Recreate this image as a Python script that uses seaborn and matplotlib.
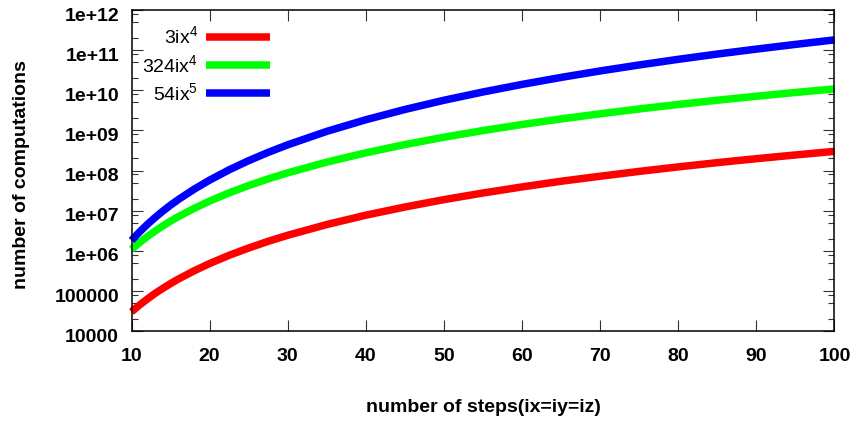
import numpy as np
import pandas as pd
import matplotlib
matplotlib.use("Agg")
import matplotlib.pyplot as plt
from matplotlib.ticker import FixedLocator, FixedFormatter, LogLocator, NullFormatter
from matplotlib.transforms import ScaledTranslation
import seaborn as sns

# grid sizes (steps per dimension)
steps = [10, 11, 12, 13, 14, 15, 16, 18, 20, 22.5, 25, 27.5, 30, 35, 40, 45,
         50, 55, 60, 65, 70, 75, 80, 85, 90, 95, 100]

# number of computations for each scheme
comp_3ix4 = [3.0e4, 4.4e4, 6.2e4, 8.6e4, 1.15e5, 1.52e5, 1.97e5, 3.15e5, 4.8e5,
             7.7e5, 1.17e6, 1.72e6, 2.43e6, 4.5e6, 7.7e6, 1.23e7, 1.88e7,
             2.75e7, 3.9e7, 5.4e7, 7.2e7, 9.5e7, 1.23e8, 1.57e8, 1.97e8,
             2.44e8, 3.0e8]
comp_324ix4 = [1.08e6, 1.58e6, 2.24e6, 3.08e6, 4.15e6, 5.47e6, 7.08e6, 1.13e7,
               1.73e7, 2.77e7, 4.22e7, 6.18e7, 8.75e7, 1.62e8, 2.76e8, 4.43e8,
               6.75e8, 9.9e8, 1.40e9, 1.93e9, 2.59e9, 3.42e9, 4.42e9, 5.64e9,
               7.09e9, 8.8e9, 1.08e10]
comp_54ix5 = [1.8e6, 2.9e6, 4.48e6, 6.68e6, 9.68e6, 1.37e7, 1.89e7, 3.4e7,
              5.76e7, 1.04e8, 1.76e8, 2.83e8, 4.37e8, 9.45e8, 1.84e9, 3.32e9,
              5.63e9, 9.06e9, 1.40e10, 2.09e10, 3.03e10, 4.27e10, 5.9e10,
              7.99e10, 1.06e11, 1.39e11, 1.8e11]

series_labels = ["3ix$^{4}$", "324ix$^{4}$", "54ix$^{5}$"]
series_colors = ["#ff0000", "#00ff00", "#0000ff"]

x_ticks = [10, 20, 30, 40, 50, 60, 70, 80, 90, 100]
y_ticks = [1e4, 1e5, 1e6, 1e7, 1e8, 1e9, 1e10, 1e11, 1e12]
y_tick_labels = ["10000", "100000", "1e+06", "1e+07", "1e+08", "1e+09",
                 "1e+10", "1e+11", "1e+12"]

df = pd.concat([
    pd.DataFrame({"steps": steps, "computations": vals, "scheme": lab})
    for vals, lab in zip([comp_3ix4, comp_324ix4, comp_54ix5], series_labels)
], ignore_index=True)

sns.set_theme(style="ticks")
plt.rcParams["font.family"] = ["Liberation Sans", "DejaVu Sans"]
plt.rcParams["mathtext.default"] = "regular"
plt.rcParams["text.color"] = "black"
plt.rcParams["axes.labelcolor"] = "black"
plt.rcParams["xtick.labelcolor"] = "black"
plt.rcParams["ytick.labelcolor"] = "black"

fig = plt.figure(figsize=(8.54, 4.21), dpi=100)
ax = fig.add_axes([131.5 / 854, 1 - 331 / 421, 703 / 854, 321 / 421])

sns.lineplot(data=df, x="steps", y="computations", hue="scheme",
             palette=dict(zip(series_labels, series_colors)),
             hue_order=series_labels, linewidth=5.4, ax=ax, legend=True,
             estimator=None, sort=True)
for line in ax.get_lines():
    line.set_solid_capstyle("butt")
    line.set_clip_on(False)

ax.set_yscale("log")
ax.set_xlim(10, 100)
ax.set_ylim(1e4, 1e12)

ax.xaxis.set_major_locator(FixedLocator(x_ticks))
ax.yaxis.set_major_locator(FixedLocator(y_ticks))
ax.yaxis.set_major_formatter(FixedFormatter(y_tick_labels))
ax.yaxis.set_minor_locator(LogLocator(base=10, subs=[2, 5, 8], numticks=20))
ax.yaxis.set_minor_formatter(NullFormatter())

ax.tick_params(which="both", direction="in", top=True, right=True,
               color="#333333", width=0.8, labelcolor="black")
ax.tick_params(which="major", length=8)
ax.tick_params(which="minor", length=4)
ax.tick_params(axis="x", which="major", pad=12, labelsize=14)
ax.tick_params(axis="y", which="major", pad=9, labelsize=14)
for lbl in ax.get_xticklabels() + ax.get_yticklabels():
    lbl.set_fontweight("bold")
for lbl in ax.get_yticklabels():
    lbl.set_transform(lbl.get_transform() + ScaledTranslation(0, -3 / 72, fig.dpi_scale_trans))

for sp in ax.spines.values():
    sp.set_linewidth(1.1)
    sp.set_color("black")

ax.set_xlabel("number of steps(ix=iy=iz)", fontsize=14, fontweight="bold")
ax.set_ylabel("number of computations", fontsize=14, fontweight="bold")
ax.xaxis.set_label_coords(0.5, -0.212)
ax.yaxis.set_label_coords(-0.144, 0.488)

leg = ax.legend(loc="upper left", bbox_to_anchor=(-0.004, 0.994), frameon=False,
                markerfirst=False, fontsize=14, handlelength=3.3,
                handletextpad=0.4, labelspacing=0.33, borderpad=0.2)
for h in leg.get_lines():
    h.set_linewidth(5.4)
    h.set_solid_capstyle("butt")

fig.savefig("out.png", dpi=100)
